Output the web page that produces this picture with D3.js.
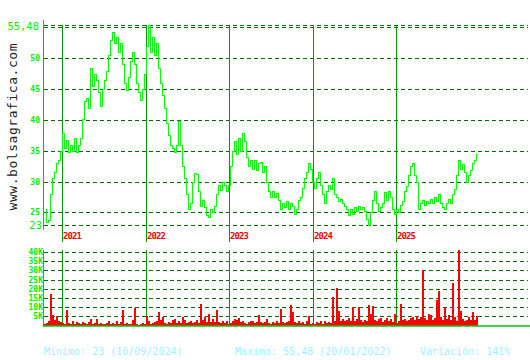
<!DOCTYPE html>
<html><head><meta charset="utf-8">
<script src="https://cdn.jsdelivr.net/npm/d3@7"></script>
<style>html,body{margin:0;padding:0;background:#fff;overflow:hidden}</style>
</head><body>
<svg id="c" width="530" height="360"></svg>
<script>
// Closing prices (EUR), roughly evenly spaced from startDate to endDate
const price = [
 25.5, 23.5, 23.8, 28, 30.5, 31.5, 33, 33.5, 35, 37.8,
 35.5, 36.8, 34.8, 36, 35, 37, 34.8, 36, 37, 40.2,
 43, 43.5, 42, 48.5, 45.5, 47.5, 46.5, 44.5, 42.2, 45,
 46.5, 48, 50.5, 53, 54.2, 52.5, 53.5, 51, 52.5, 49,
 46, 44.8, 47, 49.5, 51, 49, 46, 44.5, 43.2, 45,
 47.5, 52, 55.48, 51, 53.5, 50.5, 52.5, 48.5, 46, 44,
 42, 39.5, 37.5, 36, 35.5, 34.8, 36, 39.8, 36, 32.5,
 30.5, 28, 25.5, 26.5, 30, 31.4, 31.2, 28.5, 26, 27,
 25.8, 24.5, 24.2, 25.5, 25, 26, 28, 29.5, 28.6, 30,
 29.5, 28.5, 29.5, 32.5, 35, 36.5, 34.5, 37, 35, 37.8,
 36.5, 34, 32.5, 33.5, 32, 33.5, 31.8, 33, 33.2, 31.5,
 32.5, 30, 28.5, 27.5, 28.5, 27.5, 28.2, 27, 25.5, 26.5,
 25.8, 26.8, 25.5, 26.5, 26, 24.8, 25.5, 27, 27.5, 29,
 30.5, 31.5, 33, 32, 30, 29, 30.5, 31.5, 29.5, 28,
 26.5, 28.5, 29.5, 28.8, 30.5, 28, 27.5, 26.8, 27.2, 26.5,
 26, 25.5, 24.5, 25.5, 24.8, 25.8, 25.2, 26, 25.5, 25.8,
 25.2, 24, 23, 25, 27, 28.5, 26.5, 25.2, 25.8, 26.5,
 28.3, 27, 28.5, 27.5, 25.5, 24.8, 25.6, 25, 26.2, 26.8,
 28.5, 29.2, 31, 32.5, 33, 31, 30, 25.5, 26.5, 27,
 26.2, 26.8, 26.5, 27.2, 26.5, 27.5, 26.8, 28, 26.5, 25.8,
 25.5, 26.5, 27.2, 26.5, 28, 28.8, 31, 33.5, 32, 32.8,
 31.5, 30, 31, 31.8, 33, 33.5, 34.5
];
// Volume in thousands of shares, same dates
const volume = [
 1, 1.5, 2.5, 17, 5.5, 3, 5, 2.5, 2, 1.5,
 1, 8.2, 1.5, 1, 2.5, 1, 2, 1.5, 1, 2,
 1.5, 1, 2, 3.8, 1, 1.5, 3.5, 1, 1.5, 1,
 1, 1.5, 2.5, 1, 1.5, 1, 2.5, 1, 2, 8.2,
 1, 1.5, 1, 1, 3, 9.3, 1, 0.5, 1, 1.5,
 1, 5, 2.5, 1, 1.5, 2, 2.5, 7.5, 3, 4.5,
 1.5, 1, 2, 1.5, 3, 3.5, 1.5, 2.5, 1.5, 4.4,
 3, 1.5, 2, 2.5, 1.5, 2, 3, 1.5, 11.5, 3,
 4.5, 2, 6.4, 2, 3.5, 2, 8.6, 2, 1.5, 2.5,
 1.5, 2.5, 1, 1.5, 2.5, 3.5, 3, 4, 2, 2.5,
 1.5, 1, 2, 2.5, 2.5, 1.5, 2, 5.7, 2, 1.5,
 2, 3.8, 1.5, 1, 2, 1.5, 2.5, 1.5, 8.8, 2,
 1.5, 2, 2.5, 11, 7.3, 2, 1.5, 2.5, 1.5, 2,
 1, 2.5, 5, 1, 1.5, 1, 2, 1.5, 2.5, 1,
 2.5, 1.5, 2, 1.5, 15.4, 2.5, 20.5, 8, 2.5, 3.5,
 2.5, 3, 4, 2.5, 10, 2.5, 3.5, 10, 3, 2,
 3, 2.5, 11, 6, 10.5, 3, 2.5, 3.5, 4, 2,
 3, 4, 2.5, 3.5, 2, 6, 1.5, 2.5, 11.5, 3,
 3.5, 2.5, 3, 4, 4.5, 3, 5, 3.5, 4.5, 30,
 4, 3, 6.5, 5.5, 3, 4, 14, 18.7, 4.5, 3,
 9.5, 3.5, 5.5, 3, 23, 4.5, 2.5, 41, 8, 3.5,
 2.5, 3, 4.5, 3, 7.5, 3, 5
];
const startDate = "2020-10-19";
const endDate = "2025-12-19";
const years = ["2021", "2022", "2023", "2024", "2025"];
const priceTicks = [25, 30, 35, 40, 45, 50];
const priceMin = 23;
const priceMax = 55.48;
const volTicks = [5, 10, 15, 20, 25, 30, 35, 40];
const siteName = "www.bolsagrafica.com";
const stats = ["Minimo: 23 (10/09/2024)", "Maximo: 55,48 (20/01/2022)", "Variación: 141%"];

const svg = d3.select("#c");
const parse = d3.timeParse("%Y-%m-%d");
const t0 = parse(startDate), t1 = parse(endDate);
const dates = price.map((_, i) => new Date(+t0 + (t1 - t0) * i / (price.length - 1)));
const yearDates = years.map(y => d3.timeParse("%Y")(y));

const left = 44, right = 528;
const x = d3.scaleTime().domain([t0, t1]).range([45, 477]);
const y = d3.scaleLinear().domain([priceMin, priceMax]).range([224.7, 24.5]);
const yv = d3.scaleLinear().domain([0, 40]).range([325.5, 252]);

const gridCol = "#006a00", yearCol = "#009a00", axisCol = "#00c800", labCol = "#00ee00";
const mono = "'DejaVu Sans Mono', 'Liberation Mono', monospace";

// price grid + labels
const gp = svg.append("g").attr("transform", `translate(${left},0)`)
  .call(d3.axisLeft(y).tickValues(priceTicks).tickSize(-(right - left)).tickPadding(4).tickFormat(d3.format("d")));
gp.select(".domain").remove();
gp.selectAll(".tick").attr("transform", d => `translate(0,${Math.round(y(d)) + 0.5})`);
gp.selectAll(".tick line").attr("stroke", gridCol).attr("stroke-dasharray", "4,3").attr("shape-rendering", "crispEdges");
gp.selectAll(".tick text").attr("fill", labCol).attr("font-family", mono).attr("font-size", 8).attr("font-weight", "bold");

const ge = svg.append("g").attr("transform", `translate(${left},0)`)
  .call(d3.axisLeft(y).tickValues([priceMin, priceMax]).tickSize(-(right - left)).tickPadding(2)
    .tickFormat(d => String(d).replace(".", ",")));
ge.select(".domain").remove();
ge.selectAll(".tick").attr("transform", d => `translate(0,${Math.round(y(d)) + 0.5})`);
ge.selectAll(".tick line").attr("stroke", gridCol).attr("stroke-dasharray", "4,3").attr("shape-rendering", "crispEdges");
ge.selectAll(".tick text").attr("fill", labCol).attr("font-family", mono).attr("font-size", 10.5)
  .attr("x", d => d === priceMax ? -5 : -2).attr("dy", d => d === priceMax ? "0.45em" : "0.3em");
// top frame dashed line just under the max line
svg.append("line").attr("x1", left).attr("x2", right).attr("y1", Math.round(y(priceMax)) + 2.5).attr("y2", Math.round(y(priceMax)) + 2.5)
  .attr("stroke", gridCol).attr("stroke-dasharray", "4,3").attr("shape-rendering", "crispEdges");

// year lines (price panel)
const gy = svg.append("g").attr("transform", "translate(0,242)")
  .call(d3.axisBottom(x).tickValues(yearDates).tickSize(-217).tickPadding(0).tickFormat(d3.timeFormat("%Y")));
gy.select(".domain").remove();
gy.selectAll(".tick").attr("transform", d => `translate(${Math.round(x(d)) + 0.5},0)`);
gy.selectAll(".tick line").attr("stroke", yearCol).attr("shape-rendering", "crispEdges");
gy.selectAll(".tick text").attr("fill", "#ff0000").attr("font-family", mono).attr("font-size", 9).attr("font-weight", "bold")
  .attr("text-anchor", "start").attr("x", 0.5).attr("y", -3).attr("dy", 0).attr("textLength", 19);

// price left axis
svg.append("line").attr("x1", left - 0.5).attr("x2", left - 0.5).attr("y1", 20).attr("y2", 230).attr("stroke", axisCol);

// price line
svg.append("path").datum(price)
  .attr("d", d3.line().x((d, i) => Math.round(x(dates[i])) + 0.5).y(d => Math.round(y(d)) + 0.5).curve(d3.curveStep))
  .attr("fill", "none").attr("stroke", "#00ff00").attr("stroke-width", 1.3).attr("shape-rendering", "crispEdges");

// volume grid + labels
const gv = svg.append("g").attr("transform", `translate(${left},0)`)
  .call(d3.axisLeft(yv).tickValues(volTicks).tickSize(-(right - left)).tickPadding(1).tickFormat(d => d + "K"));
gv.select(".domain").remove();
gv.selectAll(".tick").attr("transform", d => `translate(0,${Math.round(yv(d)) + 0.5})`);
gv.selectAll(".tick line").attr("stroke", gridCol).attr("stroke-dasharray", "4,3").attr("shape-rendering", "crispEdges");
gv.selectAll(".tick text").attr("fill", labCol).attr("font-family", mono).attr("font-size", 8).attr("font-weight", "bold");

// volume year lines
const gyv = svg.append("g").attr("transform", "translate(0,326)")
  .call(d3.axisBottom(x).tickValues(yearDates).tickSize(-76).tickFormat(""));
gyv.select(".domain").remove();
gyv.selectAll(".tick").attr("transform", d => `translate(${Math.round(x(d)) + 0.5},0)`);
gyv.selectAll(".tick line").attr("stroke", yearCol).attr("shape-rendering", "crispEdges");

// volume bars
svg.append("g").selectAll("rect").data(volume).join("rect")
  .attr("x", (d, i) => Math.round(x(dates[i])) - 1)
  .attr("width", 2)
  .attr("y", d => yv(d))
  .attr("height", d => yv(0) - yv(d))
  .attr("fill", "#ff0000").attr("shape-rendering", "crispEdges");

// volume axes
svg.append("line").attr("x1", left - 0.5).attr("x2", left - 0.5).attr("y1", 250).attr("y2", 327).attr("stroke", axisCol);
svg.append("line").attr("x1", left - 1).attr("x2", 530).attr("y1", 326).attr("y2", 326).attr("stroke", axisCol).attr("stroke-width", 1.5);

// vertical site name
svg.append("text").attr("transform", "translate(17,127) rotate(-90)")
  .attr("text-anchor", "middle").attr("font-family", mono).attr("font-size", 13)
  .attr("fill", "#222").attr("textLength", 167).attr("lengthAdjust", "spacing").text(siteName);

// stats
const statX = [44, 235, 420];
svg.append("g").selectAll("text").data(stats).join("text")
  .attr("x", (d, i) => statX[i]).attr("y", 355)
  .attr("font-family", mono).attr("font-size", 10).attr("fill", "#a0f0ff").text(d => d);
</script>
</body></html>
